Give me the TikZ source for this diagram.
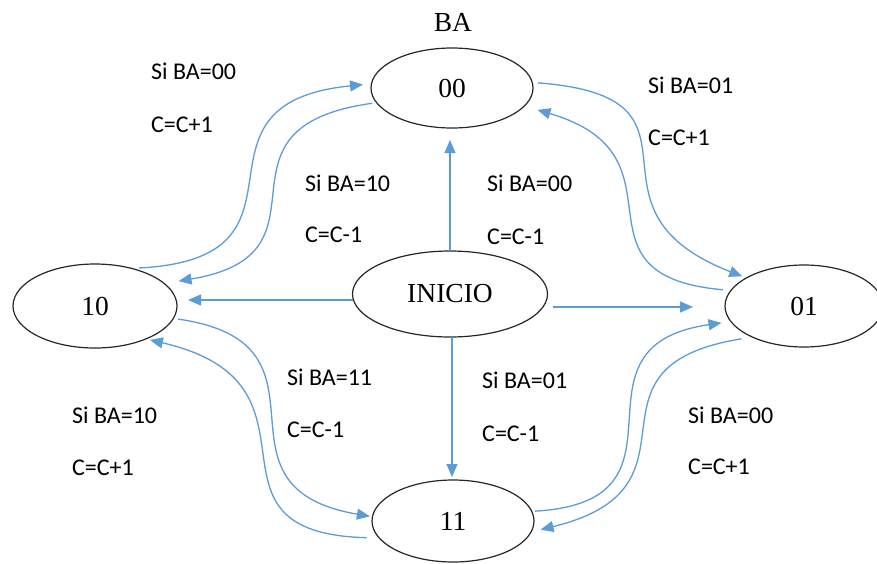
\documentclass[tikz,border=0pt]{standalone}
\usepackage{fontspec}
\setmainfont{Liberation Serif}
\newfontfamily\calibri{Carlito}
\usetikzlibrary{arrows.meta,shapes.geometric}
\definecolor{flechaazul}{rgb}{0.36,0.61,0.84}
\definecolor{grisoscuro}{rgb}{0.15,0.15,0.15}

\begin{document}
\begin{tikzpicture}[x=1pt, y=-1pt,
		estado/.style={draw=grisoscuro, line width=1.2pt, ellipse, inner sep=0pt, outer sep=0pt, font=\fontsize{27.5}{30}\selectfont},
		flecha/.style={flechaazul, line width=1.3pt, -{Triangle[length=13pt,width=11pt]}},
		cond/.style={anchor=west, inner sep=0pt, font=\calibri\fontsize{24}{26}\selectfont}]

				\useasboundingbox (0,0) rectangle (877,563);

				\node[font=\fontsize{27.5}{30}\selectfont] (titulo) at (453,22) {BA};

				\node[estado, minimum width=162pt, minimum height=80pt] (n00) at (452,88) {00};
				\node[estado, minimum width=195pt, minimum height=86pt] (ini) at (450,294) {INICIO};
				\node[estado, minimum width=164pt, minimum height=84pt] (n10) at (95,306) {10};
				\node[estado, minimum width=158pt, minimum height=82pt] (n01) at (804,306) {01};
				\node[estado, minimum width=162pt, minimum height=82pt] (n11) at (453,521) {11};

				\coordinate (iw) at ([yshift=-6pt]ini.west);
				\coordinate (ie) at ([yshift=-13pt]ini.east);
				\coordinate (is) at ([xshift=2pt]ini.south);

				\draw[flecha, shorten >=12pt] (ini.north) -- (ini.north |- n00.south);
				\draw[flecha, shorten >=11pt] (iw) -- (iw -| n10.east);
				\draw[flecha, shorten <=5pt, shorten >=32pt] (ie) -- (ie -| n01.west);
				\draw[flecha, shorten >=3pt] (is) -- (is |- n11.north);

				\draw[flecha, shorten <=7.6pt, shorten >=8.5pt] (n10.46) .. controls +(200,-10) and +(-200,20) .. (n00.177);
				\draw[flecha, shorten <=4.4pt, shorten >=14.5pt] (n00.191) .. controls +(-180,25) and +(180,-30) .. (n10.18);
				\draw[flecha, shorten <=5.8pt, shorten >=4.5pt] (n00.4) .. controls +(195,15) and +(-180,-70) .. (n01.154);
				\draw[flecha, shorten <=8pt, shorten >=13.7pt] (n01.168) .. controls +(-170,-15) and +(170,50) .. (n00.346);
				\draw[flecha, shorten <=4.6pt, shorten >=2.6pt] (n10.351) .. controls +(175,25) and +(-175,-30) .. (n11.177);
				\draw[flecha, shorten <=12.7pt, shorten >=4.2pt] (n11.193) .. controls +(-195,-5) and +(195,45) .. (n10.327);
				\draw[flecha, shorten <=3.3pt, shorten >=9.5pt] (n11.7) .. controls +(175,-10) and +(-175,25) .. (n01.192);
				\draw[flecha, shorten <=11pt, shorten >=9.8pt] (n01.211) .. controls +(-185,30) and +(185,-45) .. (n11.352);

				\node[cond] (c1a) at (151,71) {Si BA=00};
				\node[cond] (c1b) at (151,125) {C=C+1};
				\node[cond] (c2a) at (305,183) {Si BA=10};
				\node[cond] (c2b) at (305,235) {C=C-1};
				\node[cond] (c3a) at (487,183) {Si BA=00};
				\node[cond] (c3b) at (487,237) {C=C-1};
				\node[cond] (c4a) at (648,85) {Si BA=01};
				\node[cond] (c4b) at (648,138) {C=C+1};
				\node[cond] (c5a) at (287,377) {Si BA=11};
				\node[cond] (c5b) at (287,430) {C=C-1};
				\node[cond] (c6a) at (482,380) {Si BA=01};
				\node[cond] (c6b) at (482,434) {C=C-1};
				\node[cond] (c7a) at (72,415) {Si BA=10};
				\node[cond] (c7b) at (72,468) {C=C+1};
				\node[cond] (c8a) at (688,415) {Si BA=00};
				\node[cond] (c8b) at (688,467) {C=C+1};

\end{tikzpicture}
\end{document}
